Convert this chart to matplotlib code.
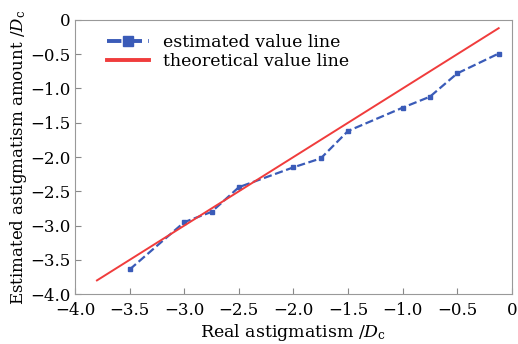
import matplotlib
matplotlib.use("Agg")
import matplotlib.pyplot as plt
import numpy as np

# estimated values
real = [-3.5, -3.0, -2.75, -2.5, -2.0, -1.75, -1.5, -1.0, -0.75, -0.5, -0.12]
est = [-3.64, -2.95, -2.80, -2.44, -2.15, -2.02, -1.62, -1.28, -1.12, -0.78, -0.49]
# theoretical line y = x
theo_x = [-3.8, -0.12]
theo_y = [-3.8, -0.12]

ticks = [-4.0, -3.5, -3.0, -2.5, -2.0, -1.5, -1.0, -0.5, 0]
tick_labels = ["\u22124.0", "\u22123.5", "\u22123.0", "\u22122.5", "\u22122.0",
               "\u22121.5", "\u22121.0", "\u22120.5", "0"]

plt.rcParams['font.family'] = ['DejaVu Serif']
plt.rcParams['mathtext.fontset'] = 'dejavuserif'

fig = plt.figure(figsize=(5.18, 3.44), dpi=100)
ax = fig.add_axes([0.145, 0.145, 0.843, 0.797])

ax.plot(real, est, ls='--', color='#3a5bb8', lw=1.6, marker='s', ms=3.5,
        label='estimated value line')
ax.plot(theo_x, theo_y, color='#f03c3c', lw=1.4, label='theoretical value line')

ax.set_xlim(-4, 0)
ax.set_ylim(-4, 0)
ax.set_xticks(ticks)
ax.set_xticklabels(tick_labels)
ax.set_yticks(ticks)
ax.set_yticklabels(tick_labels)
ax.tick_params(direction='in', labelsize=12, length=4, color='#888888', pad=3)
ax.tick_params(axis='x', pad=6)
for s in ax.spines.values():
    s.set_color('#999999')

ax.set_xlabel('Real astigmatism /$D_\\mathrm{c}$', fontsize=12.5, labelpad=2)
ax.set_ylabel('Estimated astigmatism amount /$D_\\mathrm{c}$', fontsize=12, labelpad=1)

leg = ax.legend(loc='upper left', frameon=False, fontsize=12.5, handlelength=2.4,
                markerscale=2.2, borderaxespad=0.2, labelspacing=0.1,
                handletextpad=0.8, bbox_to_anchor=(0.05, 0.985))
for h in leg.legend_handles:
    h.set_linewidth(2.8)

fig.savefig('out.png', dpi=100)
